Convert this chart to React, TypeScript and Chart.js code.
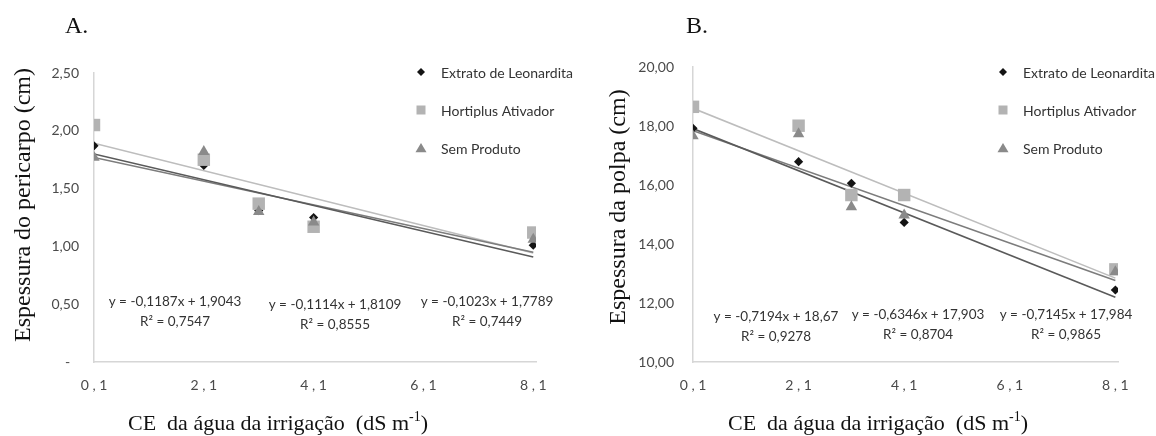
import React, { useEffect, useRef } from "react";
import { Chart, registerables } from "chart.js";

Chart.register(...registerables);

// ---------- shared data ----------
const xValues = [0.1, 2.1, 3.1, 4.1, 8.1];
const xTicks = [0.1, 2.1, 4.1, 6.1, 8.1];
const xTickLabels = ["0 , 1", "2 , 1", "4 , 1", "6 , 1", "8 , 1"];
const seriesNames = ["Extrato de Leonardita", "Hortiplus Ativador", "Sem Produto"];
const trendX = [0.1, 8.1];

// ---------- panel A: Espessura do pericarpo ----------
const extratoA = [1.87, 1.7, 1.31, 1.25, 1.01];
const hortiplusA = [2.05, 1.75, 1.37, 1.17, 1.12];
const semA = [1.77, 1.82, 1.3, 1.21, 1.06];
// trend line ends read from the printed equations
const extratoTrendA = [1.8, 0.909]; // y = -0,1114x + 1,8109
const hortiplusTrendA = [1.892, 0.943]; // y = -0,1187x + 1,9043
const semTrendA = [1.769, 0.95]; // y = -0,1023x + 1,7789
const yTicksA = [0, 0.5, 1, 1.5, 2, 2.5];
const yTickLabelsA = ["-\u2002\u2009", "0,50", "1,00", "1,50", "2,00", "2,50"];
const equationsA = [
  ["y = -0,1187x + 1,9043", "R\u00B2 = 0,7547"],
  ["y = -0,1114x + 1,8109", "R\u00B2 = 0,8555"],
  ["y = -0,1023x + 1,7789", "R\u00B2 = 0,7449"],
];

// ---------- panel B: Espessura da polpa ----------
const extratoB = [17.92, 16.79, 16.06, 14.73, 12.44];
const hortiplusB = [18.65, 18.01, 15.66, 15.66, 13.14];
const semB = [17.66, 17.73, 15.26, 14.98, 13.06];
const extratoTrendB = [17.913, 12.197]; // y = -0,7145x + 17,984
const hortiplusTrendB = [18.598, 12.843]; // y = -0,7194x + 18,67
const semTrendB = [17.84, 12.763]; // y = -0,6346x + 17,903
const yTicksB = [10, 12, 14, 16, 18, 20];
const yTickLabelsB = ["10,00", "12,00", "14,00", "16,00", "18,00", "20,00"];
const equationsB = [
  ["y = -0,7194x + 18,67", "R\u00B2 = 0,9278"],
  ["y = -0,6346x + 17,903", "R\u00B2 = 0,8704"],
  ["y = -0,7145x + 17,984", "R\u00B2 = 0,9865"],
];

// ---------- styles ----------
const SANS = "Lato, 'Liberation Sans', sans-serif";
const SERIF = "'Liberation Serif', 'DejaVu Serif', serif";
const colExtrato = "#141414";
const colHorti = "#b3b3b3";
const colSem = "#8a8a8a";
const lineExtrato = "#5a5a5a";
const lineHorti = "#bdbdbd";
const lineSem = "#7c7c7c";
const tickColor = "#4a4a4a";
const textColor = "#333333";

type PanelCfg = {
  letter: string;
  letterX: number;
  yTitle: string;
  yTitleX: number;
  yTitleY: number;
  xTitleX: number;
  extrato: number[];
  hortiplus: number[];
  sem: number[];
  extratoTrend: number[];
  hortiplusTrend: number[];
  semTrend: number[];
  yMin: number;
  yMax: number;
  yTicks: number[];
  yTickLabels: string[];
  equations: string[][];
  eqPos: number[][];
  legendX: number;
  yAxisWidth: number;
  padTop: number;
  padRight: number;
  yTickPad: number;
};

function drawMarker(ctx: CanvasRenderingContext2D, style: string, x: number, y: number, s: number, color: string) {
  ctx.fillStyle = color;
  ctx.beginPath();
  if (style === "diamond") {
    ctx.moveTo(x - s, y);
    ctx.lineTo(x, y - s);
    ctx.lineTo(x + s, y);
    ctx.lineTo(x, y + s);
  } else if (style === "square") {
    ctx.rect(x - s, y - s, 2 * s, 2 * s);
  } else {
    ctx.moveTo(x, y - s);
    ctx.lineTo(x + s * 1.1, y + s * 0.85);
    ctx.lineTo(x - s * 1.1, y + s * 0.85);
  }
  ctx.closePath();
  ctx.fill();
}

function makeTextPlugin(cfg: PanelCfg) {
  return {
    id: "panelText" + cfg.letter,
    afterDraw(chart: any) {
      const ctx: CanvasRenderingContext2D = chart.ctx;
      ctx.save();
      // panel letter
      ctx.fillStyle = "#111";
      ctx.font = `24px ${SERIF}`;
      ctx.textAlign = "left";
      ctx.textBaseline = "middle";
      ctx.fillText(cfg.letter, cfg.letterX, 27);

      // y title
      ctx.save();
      ctx.translate(cfg.yTitleX, cfg.yTitleY);
      ctx.rotate(-Math.PI / 2);
      ctx.font = `24px ${SERIF}`;
      ctx.textAlign = "center";
      ctx.textBaseline = "middle";
      ctx.fillText(cfg.yTitle, 0, 0);
      ctx.restore();

      // x title with superscript
      const main = "CE  da \u00E1gua da irriga\u00E7\u00E3o  (dS m";
      const sup = "-1";
      const tail = ")";
      ctx.font = `22px ${SERIF}`;
      const wMain = ctx.measureText(main).width;
      const wTail = ctx.measureText(tail).width;
      ctx.font = `14px ${SERIF}`;
      const wSup = ctx.measureText(sup).width;
      const total = wMain + wSup + wTail;
      const x0 = cfg.xTitleX - total / 2;
      const yBase = 430;
      ctx.textAlign = "left";
      ctx.textBaseline = "alphabetic";
      ctx.font = `22px ${SERIF}`;
      ctx.fillText(main, x0, yBase);
      ctx.font = `14px ${SERIF}`;
      ctx.fillText(sup, x0 + wMain, yBase - 9);
      ctx.font = `22px ${SERIF}`;
      ctx.fillText(tail, x0 + wMain + wSup, yBase);

      // equations
      ctx.fillStyle = textColor;
      ctx.font = `13.5px ${SANS}`;
      ctx.textAlign = "center";
      ctx.textBaseline = "middle";
      cfg.equations.forEach((eq, i) => {
        const [ex, ey] = cfg.eqPos[i];
        ctx.fillText(eq[0], ex, ey);
        ctx.fillText(eq[1], ex, ey + 20);
      });

      // legend
      const styles = ["diamond", "square", "triangle"];
      const cols = [colExtrato, colHorti, colSem];
      const sizes = [4, 4.5, 5];
      ctx.font = `14px ${SANS}`;
      ctx.textAlign = "left";
      seriesNames.forEach((name, i) => {
        const y = 72 + i * 38;
        drawMarker(ctx, styles[i], cfg.legendX, y, sizes[i], cols[i]);
        ctx.fillStyle = textColor;
        ctx.fillText(name, cfg.legendX + 20, y + 1);
      });
      ctx.restore();
    },
  };
}

function Panel({ cfg }: { cfg: PanelCfg }) {
  const ref = useRef<HTMLCanvasElement | null>(null);
  useEffect(() => {
    if (!ref.current) return;
    const pts = (ys: number[]) => xValues.map((x, i) => ({ x, y: ys[i] }));
    const tr = (ys: number[]) => trendX.map((x, i) => ({ x, y: ys[i] }));
    const trendDs = (label: string, ys: number[], color: string, order: number) => ({
      label,
      data: tr(ys),
      showLine: true,
      borderColor: color,
      borderWidth: 1.6,
      pointRadius: 0,
      fill: false,
      order,
    });
    const chart = new Chart(ref.current, {
      type: "scatter",
      data: {
        datasets: [
          trendDs("trend " + seriesNames[1], cfg.hortiplusTrend, lineHorti, 6),
          trendDs("trend " + seriesNames[2], cfg.semTrend, lineSem, 5),
          trendDs("trend " + seriesNames[0], cfg.extratoTrend, lineExtrato, 4),
          {
            label: seriesNames[0],
            data: pts(cfg.extrato),
            pointStyle: "rectRot",
            pointRadius: 4.6,
            backgroundColor: colExtrato,
            borderColor: colExtrato,
            pointBorderWidth: 0,
            order: 2,
          },
          {
            label: seriesNames[1],
            data: pts(cfg.hortiplus),
            pointStyle: "rect",
            pointRadius: 8.8,
            backgroundColor: colHorti,
            borderColor: colHorti,
            pointBorderWidth: 0,
            order: 1,
          },
          {
            label: seriesNames[2],
            data: pts(cfg.sem),
            pointStyle: "triangle",
            pointRadius: 6.6,
            backgroundColor: colSem,
            borderColor: colSem,
            pointBorderWidth: 0,
            order: 0,
          },
        ],
      },
      options: {
        animation: false,
        responsive: false,
        layout: { padding: { left: 0, right: cfg.padRight, top: cfg.padTop, bottom: 0 } },
        plugins: {
          legend: { display: false },
          tooltip: { enabled: false },
        },
        scales: {
          x: {
            type: "linear",
            min: 0.1,
            max: 8.15,
            afterBuildTicks: (s: any) => {
              s.ticks = xTicks.map((v) => ({ value: v }));
            },
            afterFit: (s: any) => {
              s.height = 74;
            },
            grid: { display: false, drawTicks: false },
            border: { display: true, color: "#d6d6d6", width: 1.5 },
            ticks: {
              padding: 15,
              color: tickColor,
              font: { family: SANS, size: 14 },
              maxRotation: 0,
              autoSkip: false,
              callback: (v: any) => {
                const idx = xTicks.findIndex((t) => Math.abs(t - Number(v)) < 1e-6);
                return idx >= 0 ? xTickLabels[idx] : "";
              },
            },
          },
          y: {
            type: "linear",
            min: cfg.yMin,
            max: cfg.yMax,
            afterBuildTicks: (s: any) => {
              s.ticks = cfg.yTicks.map((v) => ({ value: v }));
            },
            afterFit: (s: any) => {
              s.width = cfg.yAxisWidth;
            },
            grid: { display: false, drawTicks: false },
            border: { display: true, color: "#d6d6d6", width: 1.5 },
            ticks: {
              padding: cfg.yTickPad,
              color: tickColor,
              font: { family: SANS, size: 14 },
              autoSkip: false,
              callback: (v: any) => {
                const idx = cfg.yTicks.findIndex((t) => Math.abs(t - Number(v)) < 1e-6);
                return idx >= 0 ? cfg.yTickLabels[idx] : "";
              },
            },
          },
        },
      },
      plugins: [makeTextPlugin(cfg)],
    } as any);
    return () => chart.destroy();
  }, [cfg]);
  return (
    <div style={{ width: 578, height: 436, position: "relative" }}>
      <canvas ref={ref} width={578} height={436} style={{ width: 578, height: 436, display: "block" }} />
    </div>
  );
}

const cfgA: PanelCfg = {
  letter: "A.",
  letterX: 65,
  yTitle: "Espessura do pericarpo (cm)",
  yTitleX: 24,
  yTitleY: 205,
  xTitleX: 278,
  extrato: extratoA,
  hortiplus: hortiplusA,
  sem: semA,
  extratoTrend: extratoTrendA,
  hortiplusTrend: hortiplusTrendA,
  semTrend: semTrendA,
  yMin: 0,
  yMax: 2.5,
  yTicks: yTicksA,
  yTickLabels: yTickLabelsA,
  equations: equationsA,
  eqPos: [
    [175, 302],
    [335, 305],
    [487, 302],
  ],
  legendX: 421,
  yAxisWidth: 94,
  padTop: 73,
  padRight: 42,
  yTickPad: 15,
};

const cfgB: PanelCfg = {
  letter: "B.",
  letterX: 108,
  yTitle: "Espessura da polpa (cm)",
  yTitleX: 41,
  yTitleY: 207,
  xTitleX: 300,
  extrato: extratoB,
  hortiplus: hortiplusB,
  sem: semB,
  extratoTrend: extratoTrendB,
  hortiplusTrend: hortiplusTrendB,
  semTrend: semTrendB,
  yMin: 10,
  yMax: 20,
  yTicks: yTicksB,
  yTickLabels: yTickLabelsB,
  equations: equationsB,
  eqPos: [
    [198, 317],
    [340, 315],
    [488, 315],
  ],
  legendX: 425,
  yAxisWidth: 115,
  padTop: 67,
  padRight: 38,
  yTickPad: 19,
};

export default function App() {
  return (
    <div
      style={{
        position: "absolute",
        left: 0,
        top: 0,
        width: 1156,
        height: 436,
        display: "flex",
        background: "#fff",
      }}
    >
      <Panel cfg={cfgA} />
      <Panel cfg={cfgB} />
    </div>
  );
}
